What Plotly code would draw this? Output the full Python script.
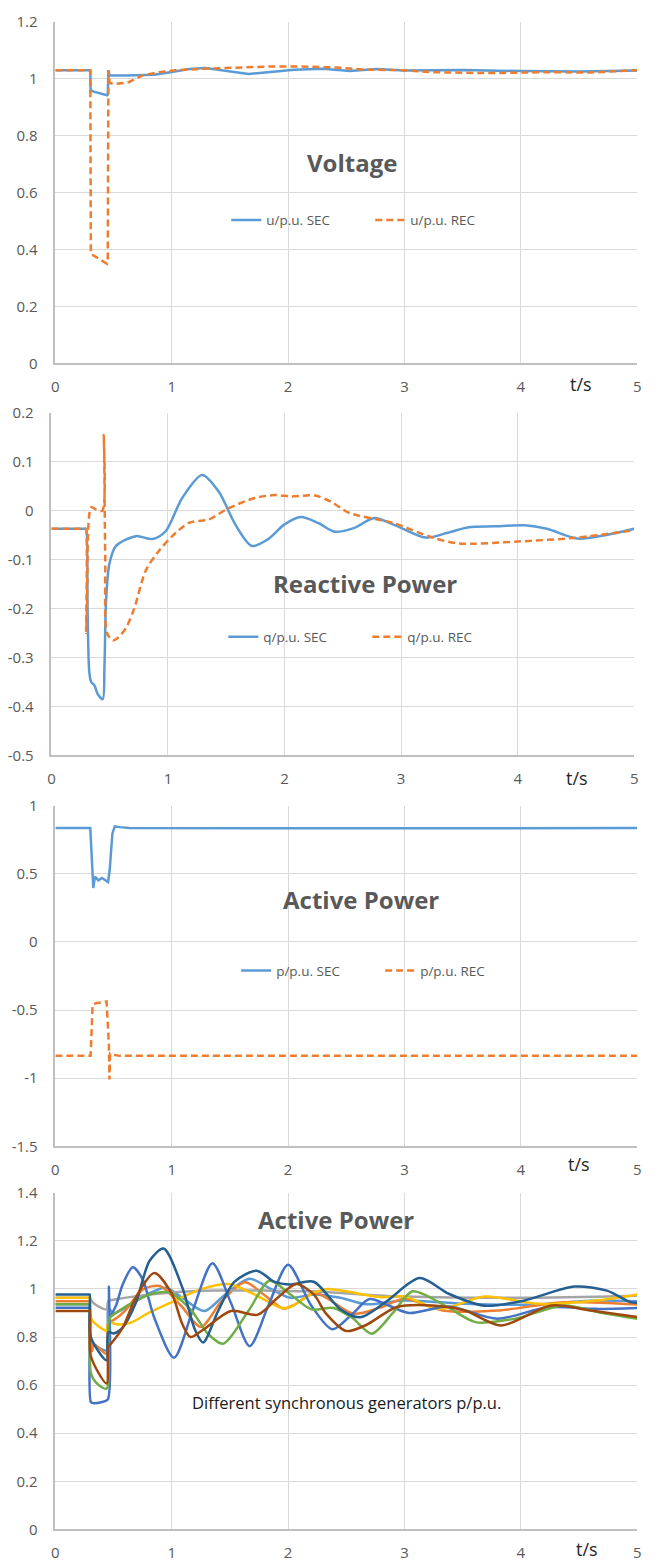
import plotly.graph_objects as go

# ---------------- data ----------------
x_ticks = [0, 1, 2, 3, 4, 5]
x_ticktext = ["0", "1", "2", "3", "4", "5"]

# Panel 1: Voltage
t_u_sec = [0, 0.3, 0.303, 0.33, 0.444, 0.45, 0.456, 0.467, 0.6, 0.85, 1.0, 1.15, 1.29, 1.45, 1.66, 1.85, 2.05, 2.3, 2.53, 2.76, 3.0, 3.5, 4.0, 4.5, 5.0]
u_sec = [1.03, 1.03, 0.96, 0.955, 0.942, 0.945, 1.03, 1.012, 1.012, 1.014, 1.024, 1.034, 1.038, 1.03, 1.017, 1.024, 1.032, 1.035, 1.027, 1.034, 1.029, 1.031, 1.027, 1.026, 1.029]
t_u_rec = [0, 0.3, 0.305, 0.444, 0.45, 0.456, 0.467, 0.52, 0.63, 0.75, 0.89, 1.03, 1.26, 1.54, 1.82, 2.1, 2.4, 2.68, 3.0, 3.24, 3.7, 4.2, 4.6, 5.0]
u_rec = [1.03, 1.03, 0.385, 0.35, 0.36, 1.03, 0.985, 0.982, 0.988, 1.012, 1.023, 1.03, 1.035, 1.038, 1.043, 1.043, 1.04, 1.032, 1.03, 1.023, 1.02, 1.023, 1.022, 1.03]
u_yticks = [0, 0.2, 0.4, 0.6, 0.8, 1.0, 1.2]
u_yticktext = ["0", "0.2", "0.4", "0.6", "0.8", "1", "1.2"]

# Panel 2: Reactive power
t_q_sec = [0, 0.2, 0.292, 0.298, 0.31, 0.325, 0.341, 0.369, 0.398, 0.44, 0.455, 0.469, 0.497, 0.554, 0.724, 0.866, 0.98, 1.122, 1.293, 1.435, 1.577, 1.719, 1.86, 2.0, 2.14, 2.287, 2.43, 2.6, 2.77, 2.95, 3.21, 3.4, 3.58, 3.8, 4.06, 4.25, 4.51, 4.75, 5.0]
q_sec = [-0.037, -0.037, -0.037, -0.037, -0.2, -0.33, -0.35, -0.357, -0.375, -0.385, -0.317, -0.183, -0.109, -0.072, -0.052, -0.058, -0.042, 0.026, 0.073, 0.039, -0.028, -0.072, -0.058, -0.028, -0.013, -0.025, -0.043, -0.035, -0.015, -0.03, -0.055, -0.045, -0.034, -0.032, -0.030, -0.037, -0.057, -0.05, -0.037]
t_q_rec = [0, 0.2, 0.29, 0.296, 0.298, 0.305, 0.341, 0.38, 0.437, 0.449, 0.462, 0.477, 0.526, 0.568, 0.639, 0.71, 0.81, 0.923, 1.037, 1.179, 1.349, 1.52, 1.747, 1.918, 2.06, 2.26, 2.4, 2.56, 2.93, 3.27, 3.49, 4.0, 4.51, 5.0]
q_rec = [-0.037, -0.037, -0.037, -0.037, -0.25, -0.2, 0.007, 0.003, 0.0, 0.155, -0.1, -0.25, -0.265, -0.26, -0.24, -0.2, -0.122, -0.082, -0.052, -0.025, -0.018, 0.005, 0.026, 0.032, 0.029, 0.031, 0.018, -0.005, -0.025, -0.055, -0.067, -0.063, -0.055, -0.04]
q_yticks = [-0.5, -0.4, -0.3, -0.2, -0.1, 0, 0.1, 0.2]
q_yticktext = ["-0.5", "-0.4", "-0.3", "-0.2", "-0.1", "0", "0.1", "0.2"]

# Panel 3: Active power
t_p_sec = [0, 0.3, 0.326, 0.34, 0.37, 0.40, 0.453, 0.467, 0.49, 0.51, 0.552, 0.637, 2.0, 3.5, 5.0]
p_sec = [0.836, 0.836, 0.396, 0.48, 0.452, 0.469, 0.44, 0.53, 0.795, 0.848, 0.843, 0.836, 0.834, 0.836, 0.836]
t_p_rec = [0, 0.303, 0.32, 0.35, 0.44, 0.453, 0.46, 0.465, 0.47, 0.48, 0.55, 5.0]
p_rec = [-0.836, -0.836, -0.461, -0.449, -0.437, -0.6, -0.75, -1.01, -0.82, -0.825, -0.836, -0.836]
p_yticks = [-1.5, -1.0, -0.5, 0, 0.5, 1.0]
p_yticktext = ["-1.5", "-1", "-0.5", "0", "0.5", "1"]

# Panel 4: synchronous generators
t_g1 = [0, 0.15, 0.29, 0.295, 0.305, 0.44, 0.455, 0.5, 0.6, 0.8, 0.95, 1.1, 1.28, 1.46, 1.67, 1.85, 2.02, 2.22, 2.45, 2.67, 3.0, 3.52, 4.09, 4.65, 5.0]
g1 = [0.936, 0.936, 0.936, 0.936, 0.785, 0.745, 0.92, 0.90, 0.92, 0.98, 1.005, 0.96, 0.908, 0.977, 1.042, 1.0, 0.963, 0.977, 0.963, 0.936, 0.952, 0.938, 0.935, 0.952, 0.949]
t_g2 = [0, 0.15, 0.29, 0.295, 0.305, 0.315, 0.33, 0.44, 0.455, 0.5, 0.6, 0.75, 0.9, 1.08, 1.25, 1.43, 1.63, 1.79, 1.96, 2.06, 2.22, 2.33, 2.56, 2.79, 3.0, 3.33, 3.8, 4.37, 5.0]
g2 = [0.949, 0.949, 0.949, 0.949, 0.76, 0.74, 0.77, 0.73, 0.86, 0.87, 0.91, 0.997, 1.012, 0.93, 0.842, 0.95, 1.028, 0.977, 0.918, 0.936, 0.984, 0.963, 0.897, 0.922, 0.959, 0.91, 0.91, 0.945, 0.935]
t_g3 = [0, 0.15, 0.29, 0.295, 0.32, 0.36, 0.44, 0.455, 0.5, 0.7, 1.0, 1.4, 1.8, 2.2, 2.7, 3.0, 4.0, 5.0]
g3 = [0.963, 0.963, 0.963, 0.963, 0.945, 0.93, 0.915, 0.95, 0.955, 0.97, 0.985, 0.993, 0.993, 0.99, 0.975, 0.968, 0.963, 0.972]
t_g4 = [0, 0.15, 0.29, 0.295, 0.31, 0.44, 0.455, 0.47, 0.55, 0.65, 0.8, 1.0, 1.26, 1.49, 1.71, 1.94, 2.02, 2.22, 2.34, 2.5, 2.79, 3.0, 3.3, 3.69, 4.15, 4.65, 5.0]
g4 = [0.963, 0.963, 0.963, 0.963, 0.874, 0.826, 0.86, 0.86, 0.852, 0.86, 0.9, 0.945, 1.0, 1.02, 0.977, 0.922, 0.925, 0.984, 1.0, 0.99, 0.966, 0.968, 0.917, 0.968, 0.938, 0.952, 0.977]
t_g5 = [0, 0.15, 0.29, 0.295, 0.305, 0.33, 0.40, 0.45, 0.46, 0.47, 0.52, 0.58, 0.665, 0.75, 0.85, 1.02, 1.18, 1.35, 1.51, 1.67, 1.83, 2.0, 2.2, 2.38, 2.55, 2.7, 2.87, 3.04, 3.38, 3.8, 4.23, 4.65, 5.0]
g5 = [0.922, 0.922, 0.922, 0.922, 0.53, 0.525, 0.53, 0.54, 1.01, 0.89, 0.93, 1.02, 1.09, 1.04, 0.88, 0.714, 0.91, 1.107, 0.94, 0.762, 0.93, 1.10, 0.93, 0.832, 0.895, 0.958, 0.93, 0.90, 0.927, 0.876, 0.924, 0.917, 0.921]
t_g6 = [0, 0.15, 0.29, 0.295, 0.305, 0.35, 0.44, 0.455, 0.47, 0.55, 0.69, 0.83, 0.98, 1.17, 1.31, 1.44, 1.66, 1.84, 2.02, 2.2, 2.39, 2.55, 2.72, 2.9, 3.07, 3.35, 3.61, 3.95, 4.37, 4.7, 5.0]
g6 = [0.936, 0.936, 0.936, 0.936, 0.65, 0.61, 0.585, 0.85, 0.88, 0.91, 0.95, 0.98, 0.985, 0.91, 0.814, 0.772, 0.909, 1.034, 0.977, 0.915, 0.921, 0.88, 0.814, 0.9, 0.99, 0.93, 0.862, 0.876, 0.931, 0.9, 0.876]
t_g7 = [0, 0.15, 0.29, 0.295, 0.305, 0.44, 0.455, 0.5, 0.58, 0.69, 0.81, 0.93, 1.09, 1.2, 1.27, 1.4, 1.54, 1.73, 1.88, 2.02, 2.22, 2.45, 2.62, 2.85, 3.13, 3.38, 3.69, 4.03, 4.46, 4.74, 4.94, 5.0]
g7 = [0.977, 0.977, 0.977, 0.977, 0.80, 0.703, 0.82, 0.815, 0.84, 0.94, 1.117, 1.168, 1.007, 0.83, 0.777, 0.91, 1.03, 1.076, 1.03, 1.018, 1.03, 0.915, 0.882, 0.95, 1.045, 0.98, 0.93, 0.952, 1.01, 0.993, 0.945, 0.942]
t_g8 = [0, 0.15, 0.29, 0.295, 0.305, 0.44, 0.455, 0.467, 0.58, 0.693, 0.85, 1.0, 1.09, 1.16, 1.26, 1.51, 1.74, 1.91, 2.07, 2.22, 2.33, 2.5, 2.67, 2.93, 3.24, 3.52, 3.83, 4.26, 4.6, 5.0]
g8 = [0.908, 0.908, 0.908, 0.908, 0.72, 0.607, 0.76, 0.766, 0.84, 0.966, 1.066, 0.98, 0.855, 0.80, 0.827, 0.908, 0.893, 0.963, 1.02, 0.977, 0.895, 0.825, 0.85, 0.924, 0.931, 0.91, 0.848, 0.931, 0.91, 0.883]
g_yticks = [0, 0.2, 0.4, 0.6, 0.8, 1.0, 1.2, 1.4]
g_yticktext = ["0", "0.2", "0.4", "0.6", "0.8", "1", "1.2", "1.4"]

# ---------------- styling ----------------
W, H = 658, 1568
BLUE = "#5B9BD5"
ORANGE = "#ED7D31"
GEN_COLORS = ["#5B9BD5", "#ED7D31", "#A5A5A5", "#FFC000", "#4472C4", "#70AD47", "#255E91", "#9E480E"]
GRID = "#D9D9D9"
AXIS = "#BFBFBF"
TXT = "#595959"
FONT = "Open Sans"
LW = 2.5


def fx(px):
    return px / W


def fy(py):
    return 1 - py / H


panels = [(52, 641, 11, 357), (48, 638, 407, 754), (52, 641, 805, 1150), (52, 641, 1197, 1538)]
yranges = [[0, 1.2], [-0.5, 0.2], [-1.5, 1.0], [0, 1.4]]
yticks = [(u_yticks, u_yticktext), (q_yticks, q_yticktext), (p_yticks, p_yticktext), (g_yticks, g_yticktext)]

fig = go.Figure()

# panel 1
fig.add_trace(go.Scatter(x=t_u_sec, y=u_sec, mode="lines", name="u/p.u. SEC",
                         line=dict(color=BLUE, width=LW), xaxis="x", yaxis="y", legend="legend"))
fig.add_trace(go.Scatter(x=t_u_rec, y=u_rec, mode="lines", name="u/p.u. REC",
                         line=dict(color=ORANGE, width=LW, dash="7px,4px"), xaxis="x", yaxis="y", legend="legend"))
# panel 2
fig.add_trace(go.Scatter(x=t_q_sec, y=q_sec, mode="lines", name="q/p.u. SEC",
                         line=dict(color=BLUE, width=LW, shape="spline", smoothing=0.8), xaxis="x2", yaxis="y2", legend="legend2"))
fig.add_trace(go.Scatter(x=t_q_rec, y=q_rec, mode="lines", name="q/p.u. REC",
                         line=dict(color=ORANGE, width=LW, dash="7px,4px", shape="spline", smoothing=0.8), xaxis="x2", yaxis="y2", legend="legend2"))
# panel 3
fig.add_trace(go.Scatter(x=t_p_sec, y=p_sec, mode="lines", name="p/p.u. SEC",
                         line=dict(color=BLUE, width=LW), xaxis="x3", yaxis="y3", legend="legend3"))
fig.add_trace(go.Scatter(x=t_p_rec, y=p_rec, mode="lines", name="p/p.u. REC",
                         line=dict(color=ORANGE, width=LW, dash="7px,4px"), xaxis="x3", yaxis="y3", legend="legend3"))
# panel 4
gens = [(t_g1, g1), (t_g2, g2), (t_g3, g3), (t_g4, g4), (t_g5, g5), (t_g6, g6), (t_g7, g7), (t_g8, g8)]
for i, (tt, vv) in enumerate(gens):
    fig.add_trace(go.Scatter(x=tt, y=vv, mode="lines", name=f"SG{i+1}", showlegend=False,
                             line=dict(color=GEN_COLORS[i], width=LW, shape="spline", smoothing=0.8),
                             xaxis="x4", yaxis="y4"))

layout = dict(width=W, height=H, margin=dict(l=0, r=0, t=0, b=0),
              paper_bgcolor="white", plot_bgcolor="white",
              font=dict(family=FONT, color=TXT))

for i, (x0, x1, y0, y1) in enumerate(panels):
    k = "" if i == 0 else str(i + 1)
    layout["xaxis" + k] = dict(domain=[fx(x0), fx(x1)], anchor="y" + k, range=[0, 5],
                               tickvals=x_ticks, ticktext=x_ticktext, showline=True, linecolor=AXIS, linewidth=1.5,
                               showgrid=True, gridcolor=GRID, gridwidth=1, zeroline=False, ticks="",
                               ticklabelstandoff=9, tickfont=dict(family=FONT, size=15, color=TXT), fixedrange=True)
    layout["yaxis" + k] = dict(domain=[fy(y1), fy(y0)], anchor="x" + k, range=yranges[i],
                               tickvals=yticks[i][0], ticktext=yticks[i][1], showline=True, linecolor=AXIS, linewidth=1.5,
                               showgrid=True, gridcolor=GRID, gridwidth=1, zeroline=False, ticks="",
                               ticklabelstandoff=13, tickfont=dict(family=FONT, size=15, color=TXT), fixedrange=True)

leg_common = dict(orientation="h", xanchor="left", yanchor="middle", bgcolor="rgba(0,0,0,0)",
                  font=dict(family=FONT, size=13.5, color=TXT), entrywidth=99, entrywidthmode="pixels",
                  itemclick=False, itemdoubleclick=False)
layout["legend"] = dict(x=fx(225), y=fy(212), **leg_common)
layout["legend2"] = dict(x=fx(222), y=fy(634), **leg_common)
layout["legend3"] = dict(x=fx(235), y=fy(972), **leg_common)

annotations = []
titles = [("Voltage", 352, 153), ("Reactive Power", 365, 580), ("Active Power", 361, 900), ("Active Power", 336, 1224)]
for txt, px, py in titles:
    annotations.append(dict(text=txt, x=fx(px), y=fy(py), xref="paper", yref="paper", showarrow=False,
                            xanchor="center", yanchor="middle",
                            font=dict(family=FONT, size=24, color=TXT, weight="bold")))
for px, py in [(584, 378), (580, 777), (582, 1168), (590, 1558)]:
    annotations.append(dict(text="t/s", x=fx(px), y=fy(py), xref="paper", yref="paper", showarrow=False,
                            xanchor="center", yanchor="middle", font=dict(family=FONT, size=18, color="#262626")))
annotations.append(dict(text="Different synchronous generators p/p.u.", x=fx(347), y=fy(1409), xref="paper", yref="paper",
                        showarrow=False, xanchor="center", yanchor="middle",
                        font=dict(family=FONT, size=16.5, color="#1a1a1a")))
layout["annotations"] = annotations

fig.update_layout(**layout)
fig.write_html("out.html", config={"displayModeBar": False},
               post_script="document.body.style.margin='0';document.body.style.padding='0';document.documentElement.style.overflow='hidden';")
